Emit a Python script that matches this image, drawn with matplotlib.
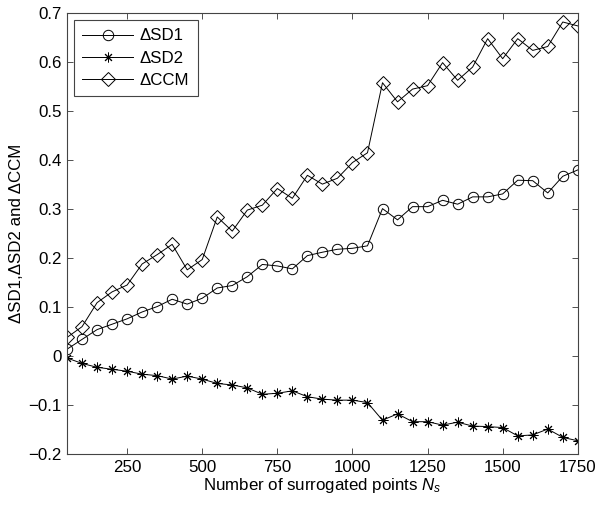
import numpy as np
import matplotlib
matplotlib.use("Agg")
import matplotlib.pyplot as plt
from matplotlib.ticker import FuncFormatter

plt.rcParams['font.family'] = ['Liberation Sans', 'DejaVu Sans']
plt.rcParams['mathtext.fontset'] = 'custom'
plt.rcParams['mathtext.rm'] = 'Liberation Sans'
plt.rcParams['mathtext.it'] = 'Liberation Sans:italic'

# number of surrogated points
ns = list(range(50, 1751, 50))

sd1 = [0.014, 0.034, 0.054, 0.065, 0.076, 0.090, 0.101, 0.116, 0.106, 0.118,
       0.139, 0.144, 0.162, 0.187, 0.184, 0.178, 0.205, 0.212, 0.218, 0.220,
       0.225, 0.301, 0.278, 0.305, 0.305, 0.318, 0.310, 0.325, 0.325, 0.331,
       0.359, 0.358, 0.333, 0.367, 0.380]

sd2 = [-0.004, -0.015, -0.023, -0.027, -0.031, -0.037, -0.040, -0.047, -0.041, -0.047,
       -0.056, -0.059, -0.065, -0.078, -0.076, -0.071, -0.083, -0.088, -0.090, -0.090,
       -0.095, -0.131, -0.118, -0.134, -0.134, -0.141, -0.135, -0.143, -0.144, -0.146,
       -0.163, -0.161, -0.149, -0.166, -0.173]

ccm = [0.038, 0.060, 0.109, 0.131, 0.145, 0.188, 0.207, 0.228, 0.176, 0.197,
       0.284, 0.255, 0.298, 0.308, 0.342, 0.322, 0.369, 0.351, 0.363, 0.395,
       0.415, 0.558, 0.519, 0.545, 0.552, 0.599, 0.563, 0.590, 0.648, 0.607,
       0.648, 0.624, 0.632, 0.682, 0.674]

xticks = [250, 500, 750, 1000, 1250, 1500, 1750]
yticks = [-0.2, -0.1, 0, 0.1, 0.2, 0.3, 0.4, 0.5, 0.6, 0.7]

fs = 12.2

fig = plt.figure(figsize=(6.0, 5.07), dpi=100)
ax = fig.add_axes([0.1117, 0.1045, 0.8513, 0.8695])

lw = 0.7
ax.plot(ns, sd1, color='k', lw=lw, marker='o', ms=7.5, mfc='none', mec='k', mew=0.7, label='ΔSD1')
ax.plot(ns, sd2, color='k', lw=lw, marker=(8, 2, 0), ms=7, mec='k', mew=0.7, label='ΔSD2')
ax.plot(ns, ccm, color='k', lw=lw, marker='D', ms=7, mfc='none', mec='k', mew=0.7, label='ΔCCM')

ax.set_xlim(50, 1750)
ax.set_ylim(-0.2, 0.7)
ax.set_xticks(xticks)
ax.set_yticks(yticks)
ax.yaxis.set_major_formatter(FuncFormatter(lambda v, p: '0' if abs(v) < 1e-9 else ('%g' % v).replace('-', '\u2212')))
ax.tick_params(direction='in', top=True, right=True, labelsize=fs, length=4, width=0.6,
               color='#333333', pad=4)
for s in ax.spines.values():
    s.set_linewidth(0.8)
    s.set_color('#444444')

ax.set_xlabel('Number of surrogated points $N_s$', fontsize=fs, labelpad=1)
ax.set_ylabel('ΔSD1,ΔSD2 and ΔCCM', fontsize=fs, labelpad=3)

leg = ax.legend(loc='upper left', fontsize=fs, handlelength=3.0, fancybox=False,
                edgecolor='#444444', framealpha=1, borderaxespad=0.4, labelspacing=0.42,
                borderpad=0.5, handletextpad=0.4)
leg.get_frame().set_linewidth(0.8)

fig.savefig('out.png', dpi=100)
